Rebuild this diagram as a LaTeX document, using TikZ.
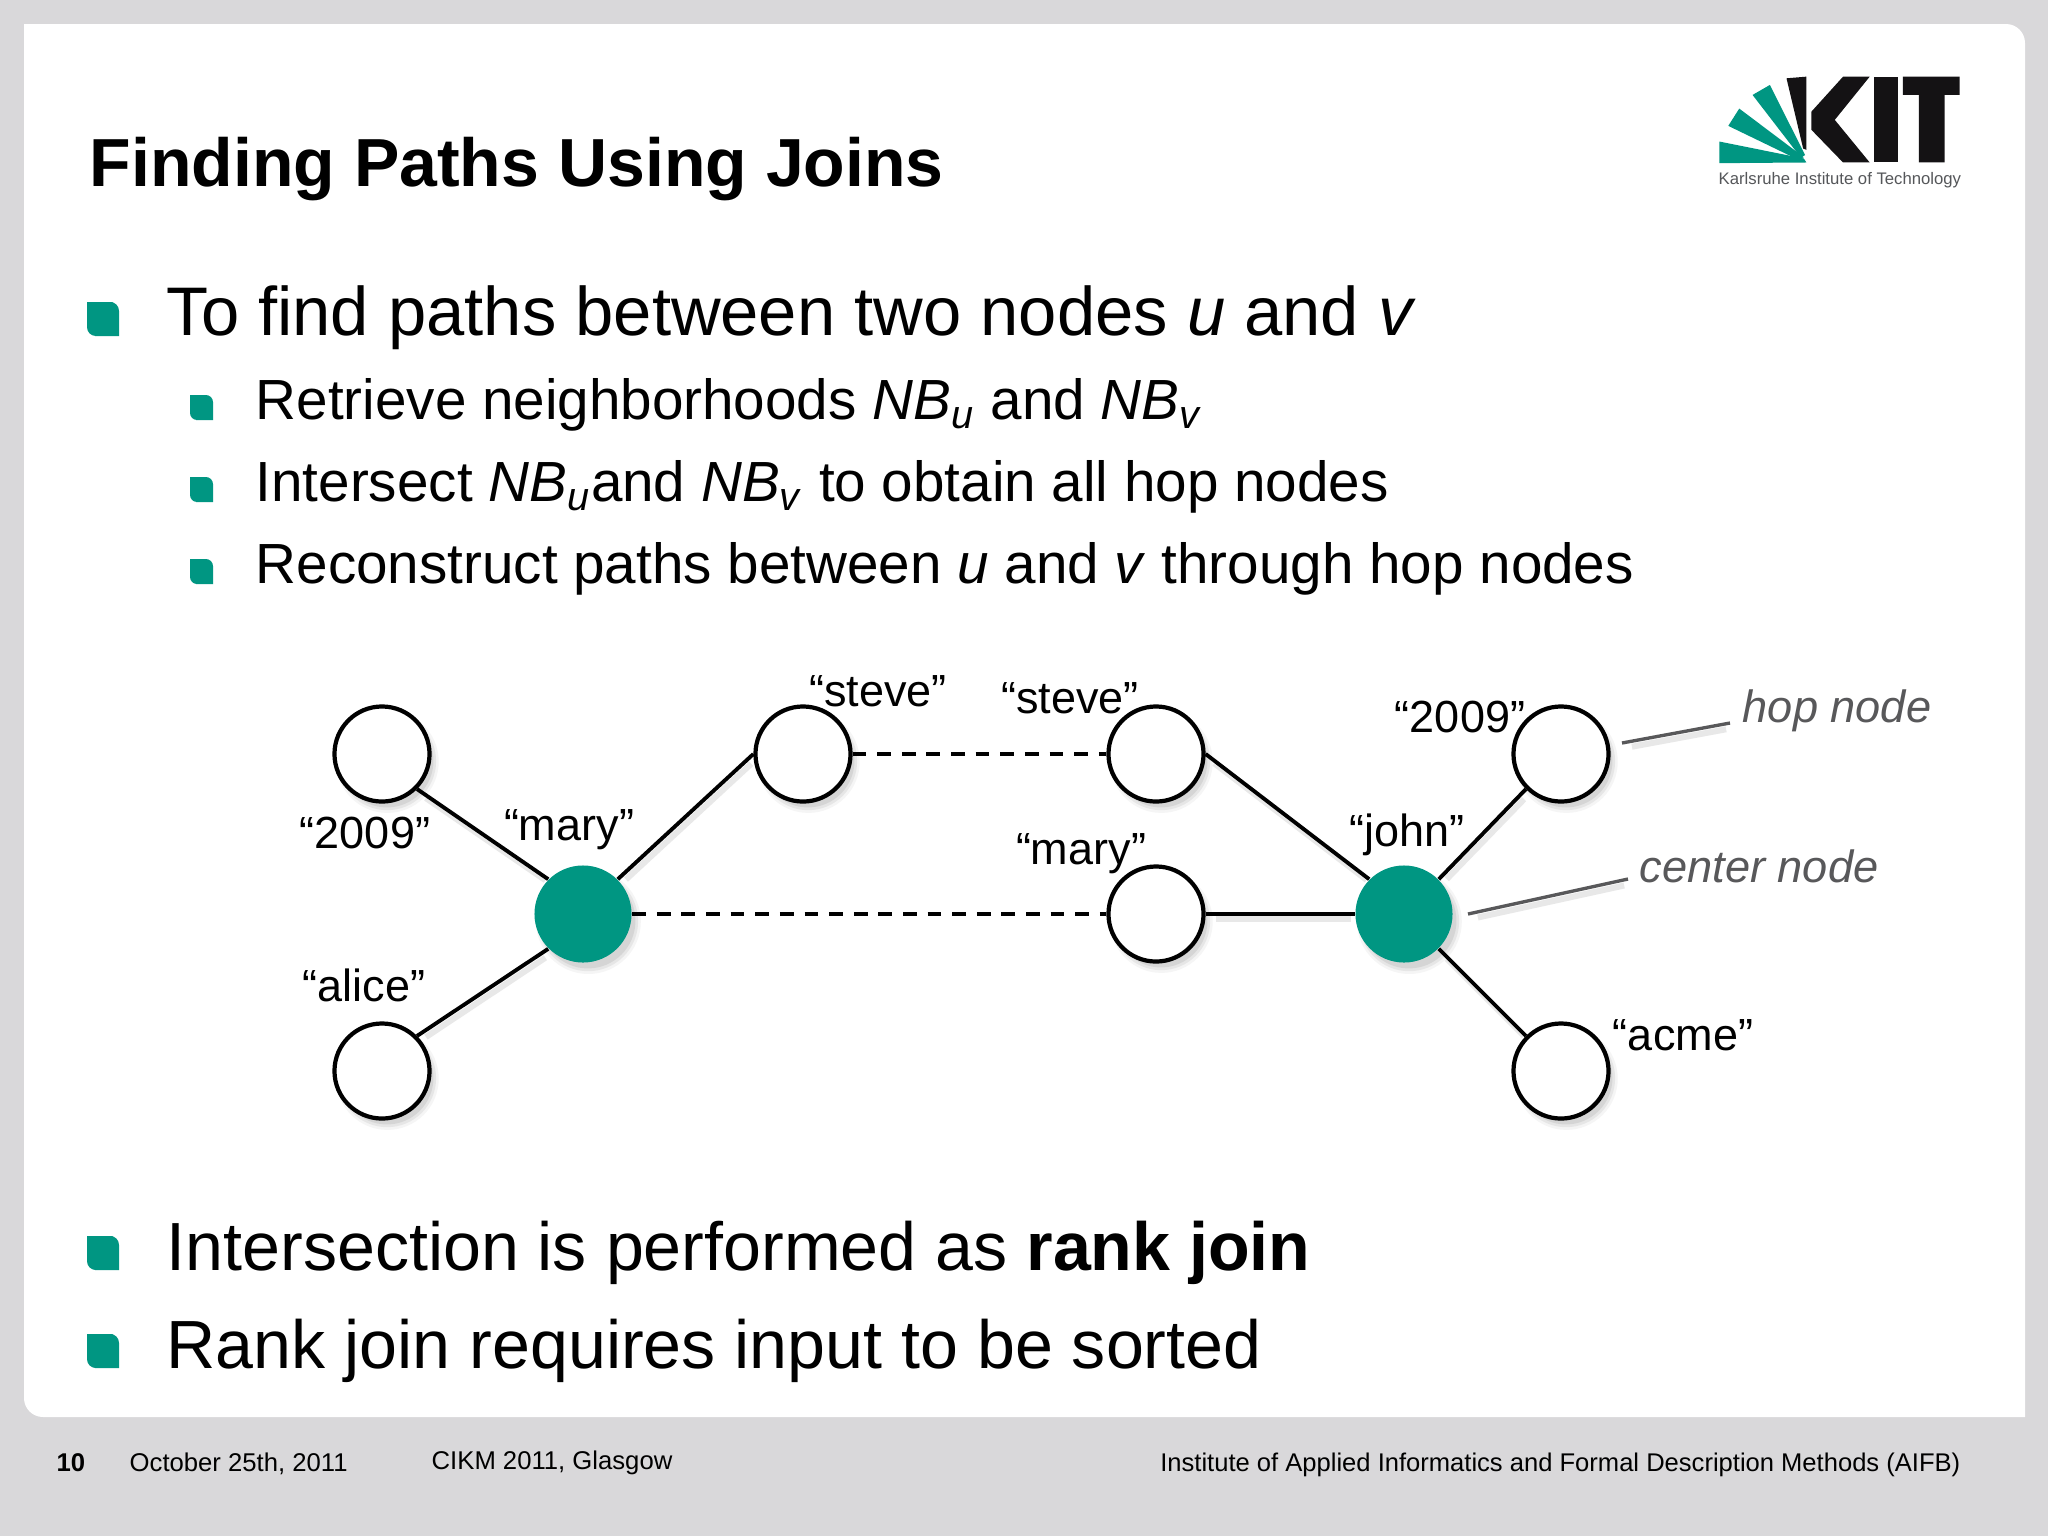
\documentclass[tikz,border=0pt]{standalone}
\usepackage{fontspec}
\setmainfont{Liberation Sans}
\usepackage{xcolor}
\usetikzlibrary{shadows}
\definecolor{kitgreen}{HTML}{009682}
\definecolor{framegray}{HTML}{D9D8DA}
\definecolor{notegray}{HTML}{58585A}
\definecolor{logogray}{HTML}{55575A}
\definecolor{logoblack}{HTML}{141214}
\newcommand{\subit}[1]{\textsubscript{\textit{#1}}}
\tikzset{
  heading/.style={anchor=base west, inner sep=0pt, font=\fontsize{19.34pt}{22pt}\selectfont\bfseries},
  bodya/.style={anchor=base west, inner sep=0pt, font=\fontsize{19.55pt}{22pt}\selectfont},
  bodyc/.style={anchor=base west, inner sep=0pt, font=\fontsize{19.38pt}{22pt}\selectfont},
  bodyb/.style={anchor=base west, inner sep=0pt, font=\fontsize{16.1pt}{18pt}\selectfont},
  foot/.style={anchor=base west, inner sep=0pt, font=\fontsize{7.3pt}{9pt}\selectfont},
  softshadow/.style={
    drop shadow={shadow xshift=0.05cm, shadow yshift=-0.07cm, opacity=0.08, shadow scale=1.08},
    drop shadow={shadow xshift=0.05cm, shadow yshift=-0.07cm, opacity=0.12, shadow scale=1.03},
    drop shadow={shadow xshift=0.05cm, shadow yshift=-0.07cm, opacity=0.16, shadow scale=0.98}},
  plain/.style={circle, draw=black, fill=white, line width=1.2pt, minimum size=0.95cm, inner sep=0pt, softshadow},
  hub/.style={circle, fill=kitgreen, minimum size=0.97cm, inner sep=0pt, softshadow},
  lineshadow/.style={preaction={draw=black!9, line width=1.7pt, shorten >=2pt, shorten <=2pt, transform canvas={xshift=0.03cm, yshift=-0.05cm}}},
  edge/.style={draw=black, line width=1.1pt, lineshadow},
  joinline/.style={draw=black, line width=1.2pt, dash pattern=on 3.9pt off 3.1pt},
  leader/.style={draw=notegray, line width=0.95pt, lineshadow},
  lbl/.style={anchor=base, inner sep=0pt, font=\fontsize{12.8pt}{14pt}\selectfont},
  note/.style={anchor=base, inner sep=0pt, text=notegray, font=\fontsize{12.85pt}{14pt}\selectfont\itshape},
  bigmark/.pic={\fill[kitgreen] (0,0) -- (26,0) [rounded corners=2.5pt] -- (32,0) [sharp corners] -- (32,34) -- (8,34) [rounded corners=2.5pt] -- (0,34) [sharp corners] -- cycle;},
  smallmark/.pic={\fill[kitgreen] (0,0) -- (17,0) [rounded corners=2pt] -- (23,0) [sharp corners] -- (23,25) -- (6,25) [rounded corners=2pt] -- (0,25) [sharp corners] -- cycle;}
}
\begin{document}
\begin{tikzpicture}[x=0.01cm, y=-0.01cm]
  \useasboundingbox (0,0) rectangle (2048,1536);
  \fill[framegray] (0,0) rectangle (2048,1536);
  \fill[white] (24,24) -- (2000,24) [rounded corners=5.4pt] -- (2025,24) [sharp corners] -- (2025,1417) -- (50,1417) [rounded corners=5.4pt] -- (24,1417) [sharp corners] -- cycle;

  % logo
  \begin{scope}[shift={(1680,50)}, x=0.00333cm, y=-0.00333cm]
    \fill[kitgreen] (118,275) -- (118,340) -- (380,338) -- (372,326) -- cycle;
    \fill[kitgreen] (178,176) -- (145,228) -- (356,330) -- (372,322) -- cycle;
    \fill[kitgreen] (270,105) -- (218,135) -- (362,322) -- (376,316) -- cycle;
    \fill[logoblack] (320,85) -- (380,80) -- (380,300) -- (370,296) -- cycle;
    \fill[logoblack] (395,185) -- (490,80) -- (570,80) -- (465,210) -- (570,338) -- (490,338) -- (395,240) -- cycle;
    \fill[logoblack] (582,80) rectangle (655,338);
    \fill[logoblack] (670,80) -- (840,80) -- (840,135) -- (795,135) -- (795,338) -- (718,338) -- (718,135) -- (670,135) -- cycle;
  \end{scope}
  \node[foot, text=logogray, font=\fontsize{4.75pt}{6pt}\selectfont] (logotext) at (1718,184) {Karlsruhe Institute of Technology};

  \node[heading] (title) at (89,186) {Finding Paths Using Joins};

  \pic at (87,302) {bigmark};
  \node[bodya] (linea) at (166,335) {To find paths between two nodes \textit{u} and \textit{v}};
  \pic at (190,395) {smallmark};
  \node[bodyb] (lineb) at (255,419) {Retrieve neighborhoods \textit{NB}\subit{u} and \textit{NB}\subit{v}};
  \pic at (190,477) {smallmark};
  \node[bodyb] (linec) at (255,501) {Intersect \textit{NB}\subit{u}and \textit{NB}\subit{v} to obtain all hop nodes};
  \pic at (190,559) {smallmark};
  \node[bodyb] (lined) at (255,583) {Reconstruct paths between \textit{u} and \textit{v} through hop nodes};

  \node[plain] (lefttop) at (382,754) {};
  \node[plain] (leftbot) at (382,1071) {};
  \node[plain] (steveA) at (803,754) {};
  \node[plain] (steveB) at (1156,754) {};
  \node[plain] (maryB) at (1156,914) {};
  \node[plain] (righttop) at (1561,754) {};
  \node[plain] (rightbot) at (1561,1071) {};
  \node[hub] (maryA) at (583,914) {};
  \node[hub] (john) at (1404,914) {};

  \draw[edge] (lefttop.south east) -- (maryA.north west);
  \draw[edge] (leftbot.north east) -- (maryA.south west);
  \draw[edge] (steveA.west) -- (maryA.north east);
  \draw[edge] (steveB.east) -- (john.north west);
  \draw[edge] (maryB.east) -- (john.west);
  \draw[edge] (righttop.south west) -- (john.north east);
  \draw[edge] (rightbot.north west) -- (john.south east);
  \draw[joinline] (steveA.east) -- (steveB.west);
  \draw[joinline] (maryA.east) -- (maryB.west);

  \node[lbl] (l2009a) at (365,848) {“2009”};
  \node[lbl] (lmarya) at (569,840) {“mary”};
  \node[lbl] (lalice) at (364,1001) {“alice”};
  \node[lbl] (lstevea) at (878,706) {“steve”};
  \node[lbl] (lsteveb) at (1070,713) {“steve”};
  \node[lbl] (lmaryb) at (1081,864) {“mary”};
  \node[lbl] (ljohn) at (1407,846) {“john”};
  \node[lbl] (l2009b) at (1460,732) {“2009”};
  \node[lbl] (lacme) at (1683,1050) {“acme”};

  \node[note] (hopnote) at (1837,722) {hop node};
  \node[note] (centernote) at (1759,882) {center node};
  \coordinate (hopend) at (1622,743);
  \coordinate (hopstart) at (1730,723);
  \coordinate (centerend) at (1468,914);
  \coordinate (centerstart) at (1628,879);
  \draw[leader] (hopstart) -- (hopend);
  \draw[leader] (centerstart) -- (centerend);

  \pic at (87,1236) {bigmark};
  \node[bodyc] (linee) at (166,1270) {Intersection is performed as \textbf{rank join}};
  \pic at (87,1334) {bigmark};
  \node[bodyc] (linef) at (166,1368) {Rank join requires input to be sorted};

  \node[foot, font=\fontsize{7.3pt}{9pt}\selectfont\bfseries] (pagenum) at (56,1471) {10};
  \node[foot] (datetext) at (129,1471) {October 25th, 2011};
  \node[foot] (venue) at (431,1469) {CIKM 2011, Glasgow};
  \node[foot, anchor=base east, font=\fontsize{7.27pt}{9pt}\selectfont] (institute) at (1961,1471) {Institute of Applied Informatics and Formal Description Methods (AIFB)};
\end{tikzpicture}
\end{document}
